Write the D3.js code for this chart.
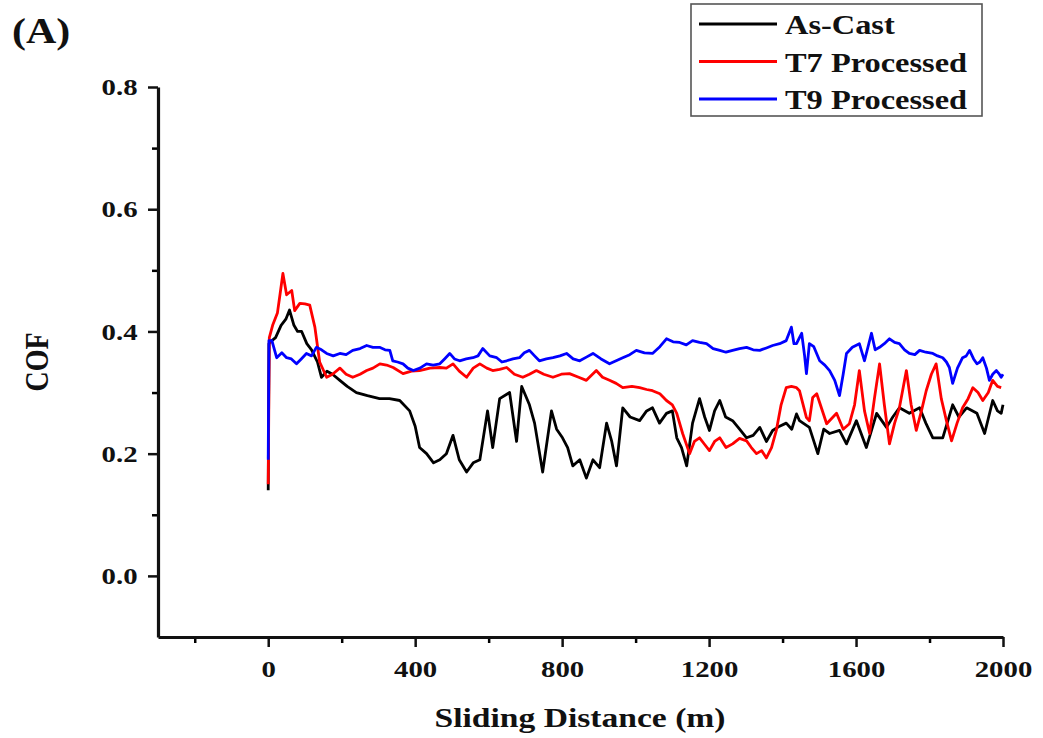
<!DOCTYPE html>
<html>
<head>
<meta charset="utf-8">
<script src="https://cdn.jsdelivr.net/npm/d3@7"></script>
<style>
  body { margin: 0; background: #fff; }
  text { font-family: "Liberation Serif", "Times New Roman", serif; font-weight: bold; fill: #111; }
</style>
</head>
<body>
<div id="chart"></div>
<script>
// As-Cast
const castDist = [0, 2, 10, 20, 35, 48, 58, 70, 80, 91, 105, 118, 134, 145, 160, 175, 195, 215, 240, 270, 303, 330, 358, 385, 400, 412, 431, 450, 467, 485, 503, 520, 540, 558, 576, 597, 611, 630, 657, 676, 690, 711, 725, 747, 771, 785, 801, 815, 829, 848, 866, 884, 902, 921, 935, 948, 965, 985, 1011, 1030, 1046, 1065, 1084, 1100, 1112, 1125, 1139, 1155, 1174, 1188, 1201, 1215, 1229, 1245, 1264, 1283, 1302, 1320, 1338, 1356, 1373, 1392, 1410, 1425, 1438, 1446, 1473, 1496, 1512, 1528, 1555, 1574, 1601, 1628, 1656, 1683, 1700, 1718, 1745, 1773, 1790, 1809, 1836, 1863, 1880, 1901, 1929, 1950, 1972, 1985, 1995, 2000];
const castCof = [0.14, 0.38, 0.385, 0.39, 0.41, 0.42, 0.435, 0.41, 0.40, 0.40, 0.38, 0.37, 0.35, 0.325, 0.335, 0.33, 0.32, 0.31, 0.30, 0.295, 0.29, 0.29, 0.287, 0.27, 0.245, 0.21, 0.20, 0.185, 0.19, 0.20, 0.23, 0.19, 0.17, 0.185, 0.19, 0.27, 0.21, 0.29, 0.30, 0.22, 0.31, 0.28, 0.25, 0.17, 0.27, 0.24, 0.226, 0.21, 0.18, 0.19, 0.16, 0.19, 0.177, 0.25, 0.22, 0.18, 0.275, 0.26, 0.254, 0.27, 0.275, 0.25, 0.266, 0.27, 0.226, 0.21, 0.18, 0.25, 0.29, 0.26, 0.238, 0.27, 0.287, 0.26, 0.254, 0.24, 0.226, 0.23, 0.243, 0.22, 0.238, 0.245, 0.25, 0.24, 0.265, 0.254, 0.243, 0.20, 0.24, 0.233, 0.238, 0.216, 0.254, 0.21, 0.266, 0.243, 0.26, 0.275, 0.266, 0.275, 0.25, 0.226, 0.226, 0.28, 0.26, 0.275, 0.266, 0.233, 0.287, 0.27, 0.266, 0.28];

// T7 Processed
const t7Dist = [0, 3, 12, 25, 32, 40, 50, 64, 72, 86, 100, 113, 127, 140, 159, 175, 195, 212, 230, 250, 268, 285, 304, 322, 340, 367, 390, 412, 440, 467, 485, 503, 520, 540, 558, 576, 595, 611, 630, 649, 670, 693, 711, 730, 750, 775, 798, 820, 845, 866, 893, 910, 929, 947, 965, 990, 1011, 1030, 1046, 1066, 1084, 1100, 1112, 1128, 1147, 1160, 1174, 1188, 1201, 1215, 1229, 1246, 1264, 1283, 1302, 1315, 1329, 1343, 1356, 1370, 1383, 1396, 1410, 1424, 1438, 1446, 1465, 1473, 1482, 1493, 1520, 1547, 1565, 1582, 1596, 1609, 1623, 1637, 1650, 1664, 1677, 1691, 1705, 1718, 1737, 1750, 1764, 1778, 1791, 1805, 1818, 1832, 1846, 1860, 1875, 1890, 1905, 1918, 1932, 1945, 1960, 1972, 1985, 1995];
const t7Cof = [0.15, 0.39, 0.41, 0.43, 0.46, 0.495, 0.46, 0.467, 0.434, 0.446, 0.445, 0.443, 0.407, 0.35, 0.325, 0.33, 0.34, 0.33, 0.325, 0.33, 0.336, 0.34, 0.347, 0.345, 0.341, 0.331, 0.335, 0.336, 0.34, 0.341, 0.34, 0.347, 0.335, 0.325, 0.34, 0.347, 0.34, 0.336, 0.338, 0.341, 0.33, 0.325, 0.33, 0.336, 0.33, 0.325, 0.33, 0.331, 0.325, 0.32, 0.336, 0.325, 0.32, 0.315, 0.308, 0.31, 0.308, 0.305, 0.303, 0.298, 0.287, 0.28, 0.266, 0.233, 0.20, 0.22, 0.226, 0.215, 0.205, 0.22, 0.226, 0.21, 0.216, 0.225, 0.221, 0.21, 0.20, 0.205, 0.193, 0.21, 0.238, 0.28, 0.308, 0.31, 0.308, 0.303, 0.259, 0.254, 0.292, 0.298, 0.249, 0.266, 0.24, 0.249, 0.28, 0.336, 0.27, 0.233, 0.29, 0.347, 0.28, 0.216, 0.25, 0.275, 0.336, 0.28, 0.238, 0.27, 0.303, 0.33, 0.347, 0.29, 0.254, 0.221, 0.25, 0.275, 0.29, 0.308, 0.30, 0.287, 0.30, 0.32, 0.31, 0.308];

// T9 Processed
const t9Dist = [0, 2, 10, 23, 37, 50, 63, 77, 90, 104, 118, 131, 145, 159, 177, 195, 212, 230, 250, 268, 285, 303, 318, 331, 339, 352, 367, 380, 395, 413, 431, 449, 467, 480, 494, 507, 521, 539, 557, 571, 584, 603, 622, 636, 649, 666, 684, 697, 711, 725, 738, 757, 775, 794, 812, 830, 848, 866, 884, 906, 929, 947, 965, 984, 1002, 1024, 1046, 1066, 1084, 1102, 1120, 1138, 1155, 1174, 1193, 1211, 1229, 1246, 1264, 1283, 1302, 1320, 1338, 1356, 1373, 1392, 1410, 1424, 1431, 1438, 1446, 1452, 1460, 1465, 1473, 1485, 1501, 1515, 1528, 1542, 1555, 1565, 1574, 1590, 1609, 1623, 1642, 1652, 1664, 1677, 1691, 1705, 1718, 1732, 1745, 1760, 1773, 1790, 1809, 1822, 1836, 1846, 1854, 1863, 1876, 1890, 1900, 1909, 1920, 1929, 1937, 1945, 1955, 1963, 1972, 1982, 1990, 1995, 2000];
const t9Cof = [0.19, 0.385, 0.385, 0.357, 0.365, 0.357, 0.355, 0.347, 0.355, 0.364, 0.36, 0.374, 0.37, 0.364, 0.36, 0.364, 0.362, 0.369, 0.372, 0.377, 0.374, 0.374, 0.37, 0.369, 0.352, 0.35, 0.347, 0.34, 0.336, 0.34, 0.347, 0.345, 0.347, 0.355, 0.364, 0.355, 0.352, 0.355, 0.357, 0.36, 0.372, 0.36, 0.357, 0.35, 0.352, 0.355, 0.357, 0.365, 0.369, 0.36, 0.352, 0.355, 0.357, 0.36, 0.364, 0.355, 0.352, 0.358, 0.364, 0.355, 0.347, 0.352, 0.357, 0.362, 0.369, 0.365, 0.364, 0.375, 0.388, 0.383, 0.382, 0.378, 0.385, 0.382, 0.38, 0.372, 0.369, 0.366, 0.369, 0.372, 0.374, 0.37, 0.369, 0.373, 0.377, 0.38, 0.385, 0.407, 0.38, 0.38, 0.39, 0.397, 0.36, 0.331, 0.38, 0.375, 0.352, 0.345, 0.336, 0.32, 0.295, 0.33, 0.364, 0.374, 0.38, 0.352, 0.397, 0.37, 0.374, 0.38, 0.388, 0.382, 0.38, 0.37, 0.364, 0.362, 0.369, 0.366, 0.364, 0.36, 0.357, 0.35, 0.341, 0.315, 0.34, 0.357, 0.36, 0.369, 0.355, 0.347, 0.35, 0.357, 0.34, 0.32, 0.33, 0.336, 0.33, 0.325, 0.33];

const seriesNames = ["As-Cast", "T7 Processed", "T9 Processed"];
const xMajor = [0, 400, 800, 1200, 1600, 2000];
const xMinor = [-200, 200, 600, 1000, 1400, 1800];
const yMajor = [0.0, 0.2, 0.4, 0.6, 0.8];
const yMinor = [0.1, 0.3, 0.5, 0.7];

const W = 1043, H = 738;
const stretch = "scale(1.2,1)"; // source figure is widened, text looks wide

const svg = d3.select("#chart").append("svg")
  .attr("width", W).attr("height", H)
  .style("background", "#fff");

const x = d3.scaleLinear().domain([-300, 2000]).range([158, 1003]);
const y = d3.scaleLinear().domain([-0.1, 0.8]).range([637, 87]);

const series = [
  {name: seriesNames[0], color: "#000000", pts: castDist.map((d, i) => [d, castCof[i]])},
  {name: seriesNames[1], color: "#ff0000", pts: t7Dist.map((d, i) => [d, t7Cof[i]])},
  {name: seriesNames[2], color: "#0000ff", pts: t9Dist.map((d, i) => [d, t9Cof[i]])}
];

const line = d3.line().x(d => x(d[0])).y(d => y(d[1]));

svg.append("g").selectAll("path")
  .data(series)
  .enter()
  .append("path")
  .attr("d", s => line(s.pts))
  .attr("fill", "none")
  .attr("stroke", s => s.color)
  .attr("stroke-width", 2.8)
  .attr("stroke-linejoin", "round");

// minor ticks
svg.append("g")
  .attr("transform", "translate(0,637)")
  .call(d3.axisBottom(x).tickValues(xMinor).tickSize(6).tickFormat(""))
  .call(g => g.select(".domain").remove())
  .selectAll("line").attr("stroke-width", 2.5);
svg.append("g")
  .attr("transform", "translate(158,0)")
  .call(d3.axisLeft(y).tickValues(yMinor).tickSize(6).tickFormat(""))
  .call(g => g.select(".domain").remove())
  .selectAll("line").attr("stroke-width", 2.5);

// major axes
const xAxis = svg.append("g")
  .attr("transform", "translate(0,637)")
  .call(d3.axisBottom(x).tickValues(xMajor).tickSize(10).tickSizeOuter(0).tickPadding(13).tickFormat(d3.format("d")));
const yAxis = svg.append("g")
  .attr("transform", "translate(158,0)")
  .call(d3.axisLeft(y).tickValues(yMajor).tickSize(10).tickSizeOuter(0).tickPadding(7).tickFormat(d3.format(".1f")));

[xAxis, yAxis].forEach(a => {
  a.select(".domain").attr("stroke-width", 3.2).attr("stroke", "#111");
  a.selectAll(".tick line").attr("stroke-width", 2.5).attr("stroke", "#111");
  a.selectAll(".tick text")
    .attr("font-size", 24)
    .attr("font-family", "Liberation Serif, serif")
    .attr("font-weight", "bold")
    .attr("fill", "#111")
    .attr("transform", stretch);
});

// axis titles
svg.append("text")
  .attr("transform", "translate(580,727) " + stretch)
  .attr("text-anchor", "middle")
  .attr("font-size", 28)
  .text("Sliding Distance (m)");

svg.append("text")
  .attr("transform", "translate(48,362) " + stretch + " rotate(-90)")
  .attr("text-anchor", "middle")
  .attr("font-size", 28)
  .text("COF");

svg.append("text")
  .attr("transform", "translate(12,43) " + stretch)
  .attr("font-size", 35)
  .text("(A)");

// legend
const legend = svg.append("g");
legend.append("rect")
  .attr("x", 691).attr("y", 4)
  .attr("width", 291).attr("height", 112)
  .attr("fill", "#fff")
  .attr("stroke", "#555")
  .attr("stroke-width", 1.6);

const rows = legend.selectAll("g.row")
  .data(series)
  .enter()
  .append("g")
  .attr("class", "row")
  .attr("transform", (s, i) => "translate(0," + (24 + i * 37.5) + ")");
rows.append("line")
  .attr("x1", 699).attr("x2", 777)
  .attr("stroke", s => s.color)
  .attr("stroke-width", 2.8);
rows.append("text")
  .attr("transform", "translate(785,10) " + stretch)
  .attr("font-size", 27)
  .text(s => s.name);
</script>
</body>
</html>
